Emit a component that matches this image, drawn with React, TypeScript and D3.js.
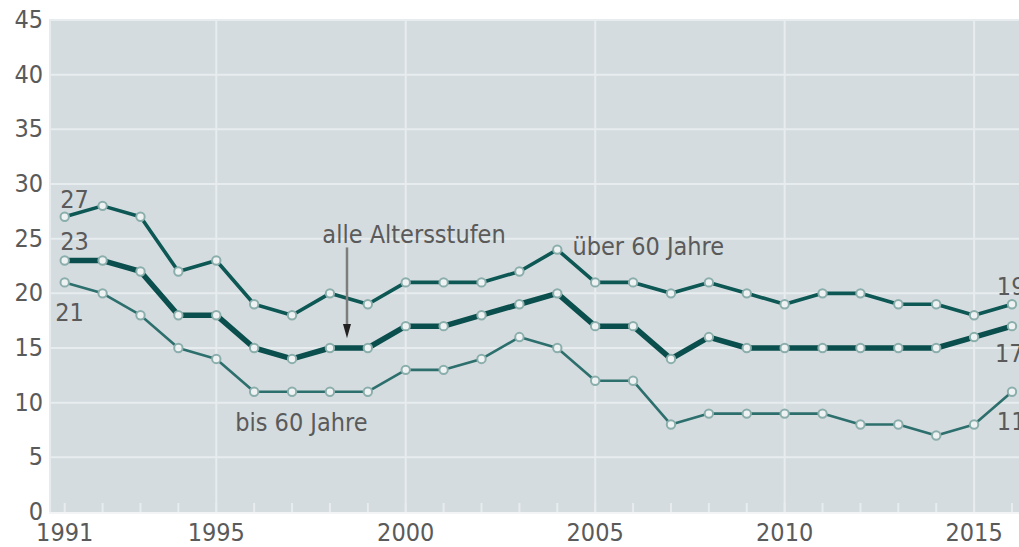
import React, { useEffect, useRef } from "react";
import * as d3 from "d3";

const years = d3.range(1991, 2017);
const ueber60 = [27, 28, 27, 22, 23, 19, 18, 20, 19, 21, 21, 21, 22, 24, 21, 21, 20, 21, 20, 19, 20, 20, 19, 19, 18, 19];
const alle = [23, 23, 22, 18, 18, 15, 14, 15, 15, 17, 17, 18, 19, 20, 17, 17, 14, 16, 15, 15, 15, 15, 15, 15, 16, 17];
const bis60 = [21, 20, 18, 15, 14, 11, 11, 11, 11, 13, 13, 14, 16, 15, 12, 12, 8, 9, 9, 9, 9, 8, 8, 7, 8, 11];
const yTicks = [0, 5, 10, 15, 20, 25, 30, 35, 40, 45];
const xTickLabels = [1991, 1995, 2000, 2005, 2010, 2015];
const xGrid = [1995, 2000, 2005, 2010, 2015];

const FONT = "'Liberation Sans Narrow', 'DejaVu Sans Condensed', 'Arial Narrow', sans-serif";

export default function App() {
  const ref = useRef<SVGSVGElement | null>(null);

  useEffect(() => {
    const width = 1019;
    const height = 547;
    const plot = { left: 49, right: 1019, top: 20, bottom: 512 };

    const x = d3.scaleLinear().domain([1991, 2016]).range([64.7, 1012]);
    const y = d3.scaleLinear().domain([0, 45]).range([plot.bottom, plot.top]);

    const svg = d3.select(ref.current).attr("width", width).attr("height", height);
    svg.selectAll("*").remove();

    svg.append("rect")
      .attr("x", plot.left)
      .attr("y", plot.top)
      .attr("width", plot.right - plot.left)
      .attr("height", plot.bottom - plot.top)
      .attr("fill", "#d5dcdf");

    // left light edge
    svg.append("line")
      .attr("x1", plot.left + 1).attr("x2", plot.left + 1)
      .attr("y1", plot.top).attr("y2", plot.bottom)
      .attr("stroke", "#e6ebed").attr("stroke-width", 2);

    svg.append("g").selectAll("line")
      .data(yTicks.filter((d) => d > 0))
      .enter()
      .append("line")
        .attr("x1", plot.left).attr("x2", plot.right)
        .attr("y1", (d) => y(d)).attr("y2", (d) => y(d))
        .attr("stroke", "#e7ecee").attr("stroke-width", 2);

    svg.append("g").selectAll("line")
      .data(xGrid)
      .enter()
      .append("line")
        .attr("x1", (d) => x(d)).attr("x2", (d) => x(d))
        .attr("y1", plot.top).attr("y2", plot.bottom)
        .attr("stroke", "#e7ecee").attr("stroke-width", 2);

    // small year ticks at the bottom
    svg.append("g").selectAll("line")
      .data(years)
      .enter()
      .append("line")
        .attr("x1", (d) => x(d)).attr("x2", (d) => x(d))
        .attr("y1", plot.bottom - 9).attr("y2", plot.bottom)
        .attr("stroke", "#e7ecee").attr("stroke-width", 2);

    // white strip below plot
    svg.append("line")
      .attr("x1", plot.left).attr("x2", plot.right)
      .attr("y1", plot.bottom + 1).attr("y2", plot.bottom + 1)
      .attr("stroke", "#f2f4f5").attr("stroke-width", 2);

    const textColor = "#5a5a5a";

    svg.append("g").selectAll("text")
      .data(yTicks)
      .enter()
      .append("text")
        .attr("x", 43)
        .attr("y", (d) => y(d) + 8)
        .attr("text-anchor", "end")
        .attr("font-family", FONT)
        .attr("font-size", 25)
        .attr("fill", textColor)
        .text((d) => d);

    svg.append("g").selectAll("text")
      .data(xTickLabels)
      .enter()
      .append("text")
        .attr("x", (d) => x(d))
        .attr("y", 541)
        .attr("text-anchor", "middle")
        .attr("font-family", FONT)
        .attr("font-size", 25)
        .attr("fill", textColor)
        .text((d) => d);

    const series = [
      { name: "bis60", vals: bis60, color: "#2c6f6d", width: 2.6 },
      { name: "ueber60", vals: ueber60, color: "#0d5755", width: 3.6 },
      { name: "alle", vals: alle, color: "#0a4f4d", width: 5.5 },
    ];

    const line = d3.line<number>()
      .x((d, i) => x(years[i]))
      .y((d) => y(d));

    series.forEach((s) => {
      svg.append("path")
        .datum(s.vals)
        .attr("fill", "none")
        .attr("stroke", s.color)
        .attr("stroke-width", s.width)
        .attr("stroke-linejoin", "round")
        .attr("d", line);

      svg.append("g").selectAll("circle")
        .data(s.vals)
        .enter()
        .append("circle")
          .attr("cx", (d, i) => x(years[i]))
          .attr("cy", (d) => y(d))
          .attr("r", 4.2)
          .attr("fill", "#eef2f2")
          .attr("stroke", "#8aaeac")
          .attr("stroke-width", 2);
    });

    const label = (tx: number, ty: number, t: string, anchor = "start") =>
      svg.append("text")
        .attr("x", tx)
        .attr("y", ty)
        .attr("text-anchor", anchor)
        .attr("font-family", FONT)
        .attr("font-size", 25)
        .attr("fill", textColor)
        .text(t);

    // end values
    label(x(1990.88), y(27.8), String(ueber60[0]));
    label(x(1990.88), y(24.0), String(alle[0]));
    label(x(1990.75), y(17.5), String(bis60[0]));
    label(x(2015.6), y(19.85), String(ueber60[ueber60.length - 1]));
    label(x(2015.55), y(13.7), String(alle[alle.length - 1]));
    label(x(2015.6), y(7.5), String(bis60[bis60.length - 1]));

    // series names
    label(x(1997.8), y(24.6), "alle Altersstufen");
    label(x(2004.4), y(23.5), "über 60 Jahre");
    label(x(1995.5), y(7.4), "bis 60 Jahre");

    // arrow
    const ax = x(1998.45);
    svg.append("line")
      .attr("x1", ax).attr("x2", ax)
      .attr("y1", y(24.2)).attr("y2", y(16.8))
      .attr("stroke", "#7d7d7d").attr("stroke-width", 2.5);
    svg.append("path")
      .attr("d", `M${ax - 4},${y(17.2)} L${ax + 4},${y(17.2)} L${ax},${y(15.9)} Z`)
      .attr("fill", "#222");
  }, []);

  return (
    <svg ref={ref} style={{ position: "absolute", left: 0, top: 0, display: "block" }}></svg>
  );
}
